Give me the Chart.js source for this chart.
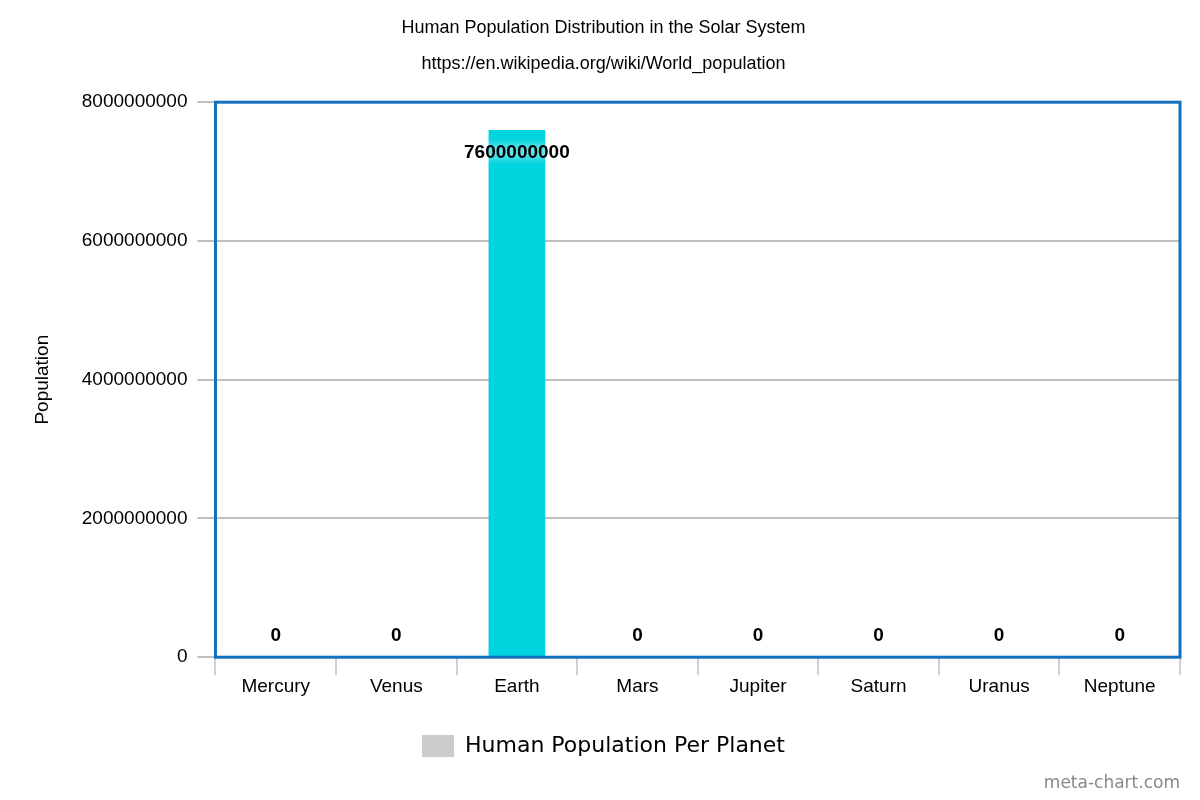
<!DOCTYPE html>
<html>
<head>
<meta charset="utf-8">
<script src="https://cdn.jsdelivr.net/npm/chart.js@4"></script>
<style>
  body { margin: 0; background: #fff; }
  #wrap { width: 1200px; height: 800px; position: relative; }
  #mark { position: absolute; right: 20px; bottom: 8px; font: 17px "DejaVu Sans", sans-serif; color: #888; }
</style>
</head>
<body>
<div id="wrap"><canvas id="mycanvas" width="1200" height="800"></canvas><div id="mark">meta-chart.com</div></div>
<script>
var planets = ['Mercury', 'Venus', 'Earth', 'Mars', 'Jupiter', 'Saturn', 'Uranus', 'Neptune'];
var population = [0, 0, 7600000000, 0, 0, 0, 0, 0];
var yTicks = [0, 2000000000, 4000000000, 6000000000, 8000000000];

// blue frame around the plot area
var framePlugin = {
	id: 'frame',
	afterDatasetsDraw: function(chart) {
		var a = chart.chartArea, c = chart.ctx;
		c.save();
		c.strokeStyle = '#1470bd';
		c.lineWidth = 3;
		c.strokeRect(a.left, a.top, a.right - a.left, a.bottom - a.top);
		c.restore();
	}
};

// value labels on bars
var labelPlugin = {
	id: 'labels',
	afterDatasetsDraw: function(chart) {
		var c = chart.ctx;
		var meta = chart.getDatasetMeta(0);
		c.save();
		c.font = 'bold 19px "Liberation Sans", Arial, sans-serif';
		c.textAlign = 'center';
		c.textBaseline = 'middle';
		c.fillStyle = '#000';
		meta.data.forEach(function(bar, i) {
			var v = population[i];
			var y = v > 0 ? bar.y + 23 : bar.y - 21;
			if (v > 0) { c.shadowColor = '#fff'; c.shadowBlur = 8; } else { c.shadowBlur = 0; }
			c.fillText(String(v), bar.x, y);
		});
		c.restore();
	}
};

var chartdata = {
	labels: planets,
	datasets: [{
		label: 'Human Population Per Planet',
		backgroundColor: '#00d4de',
		borderWidth: 0,
		barPercentage: 0.47,
		categoryPercentage: 1,
		data: population
	}]
};

var ctx = document.getElementById('mycanvas');
var barGraph = new Chart(ctx, {
	type: 'bar',
	data: chartdata,
	plugins: [framePlugin, labelPlugin],
	options: {
		responsive: false,
		animation: false,
		layout: { padding: { left: 27, right: 20, top: 3, bottom: 33 } },
		plugins: {
			title: {
				display: true,
				text: 'Human Population Distribution in the Solar System',
				color: '#000',
				font: { family: '"Liberation Sans", Arial', size: 18, weight: 'normal' },
				padding: { top: 14, bottom: 4 }
			},
			subtitle: {
				display: true,
				text: 'https://en.wikipedia.org/wiki/World_population',
				color: '#000',
				font: { family: '"Liberation Sans", Arial', size: 18 },
				padding: { top: 11, bottom: 27 }
			},
			legend: {
				position: 'bottom',
				labels: {
					color: '#333',
					boxWidth: 32,
					boxHeight: 22,
					padding: 37,
					font: { family: '"DejaVu Sans"', size: 22 },
					generateLabels: function() {
						return [{ text: 'Human Population Per Planet', fillStyle: '#cccccc', strokeStyle: '#cccccc', lineWidth: 0 }];
					}
				}
			},
			tooltip: { enabled: false }
		},
		scales: {
			x: {
				grid: { offset: true, drawOnChartArea: false, color: '#c8d0dc', tickLength: 18, lineWidth: 2 },
				border: { display: false },
				ticks: { color: '#000', padding: 0, font: { family: '"Liberation Sans", Arial', size: 19 } }
			},
			y: {
				min: 0,
				max: 8000000000,
				afterBuildTicks: function(axis) { axis.ticks = yTicks.map(function(v) { return { value: v }; }); },
				grid: { color: '#c0c0c0', lineWidth: 2, tickLength: 18 },
				border: { display: false },
				title: { display: true, text: 'Population', color: '#000', font: { family: '"Liberation Sans", Arial', size: 19 }, padding: { bottom: 18 } },
				ticks: { color: '#000', padding: 10, font: { family: '"Liberation Sans", Arial', size: 19 }, callback: function(v) { return String(v); } }
			}
		}
	}
});
</script>
</body>
</html>
